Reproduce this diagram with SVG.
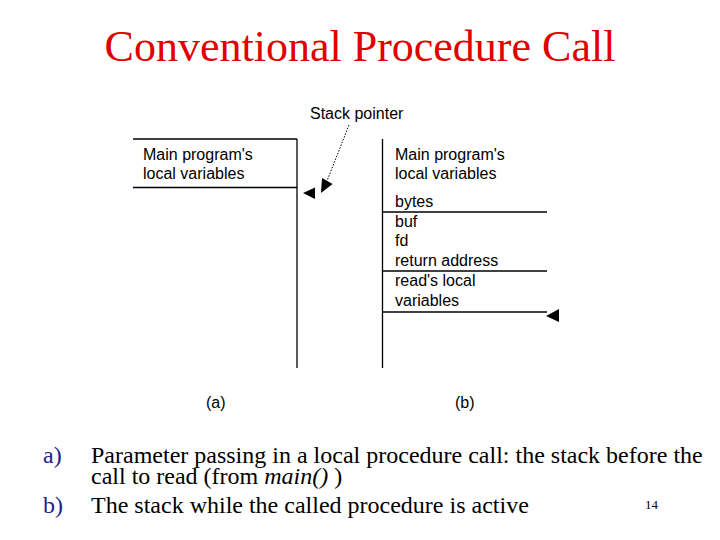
<svg xmlns="http://www.w3.org/2000/svg" width="720" height="540" viewBox="0 0 720 540">
<style>
.t{font-family:"Liberation Serif","Times New Roman",serif;}
.s{font-family:"Liberation Sans",Arial,sans-serif;font-size:16px;fill:#000;}
.ln{stroke:#000;stroke-width:1.3;fill:none;}
.ah{fill:#000;stroke:none;}
.body{font-size:24px;fill:#000;}
.lbl{font-size:24px;fill:#222288;}
</style>
<rect width="720" height="540" fill="#fff"/>
<text id="title" class="t" x="360" y="61" text-anchor="middle" font-size="44" fill="#E00000">Conventional Procedure Call</text>

<g id="stack-a">
  <line class="ln" x1="133" y1="139" x2="297" y2="139"/>
  <line class="ln" x1="133" y1="187.5" x2="297" y2="187.5"/>
  <line class="ln" x1="297" y1="139" x2="297" y2="368"/>
  <text class="s" x="143" y="160">Main program's</text>
  <text class="s" x="143" y="179">local variables</text>
  <text class="s" x="206" y="408">(a)</text>
</g>

<g id="stack-b">
  <line class="ln" x1="382.5" y1="139" x2="382.5" y2="368"/>
  <line class="ln" x1="382.5" y1="212" x2="547" y2="212"/>
  <line class="ln" x1="382.5" y1="271" x2="547" y2="271"/>
  <line class="ln" x1="382.5" y1="312" x2="547" y2="312"/>
  <text class="s" x="395" y="160">Main program's</text>
  <text class="s" x="395" y="179">local variables</text>
  <text class="s" x="395" y="207">bytes</text>
  <text class="s" x="395" y="227">buf</text>
  <text class="s" x="395" y="246">fd</text>
  <text class="s" x="395" y="266">return address</text>
  <text class="s" x="395" y="286">read's local</text>
  <text class="s" x="395" y="306">variables</text>
  <text class="s" x="455" y="408">(b)</text>
</g>

<g id="stack-pointer-label">
  <text class="s" x="310" y="119">Stack pointer</text>
</g>

<g id="connectors">
  <line x1="349" y1="125" x2="327" y2="181" stroke="#000" stroke-width="1" stroke-dasharray="1.5,1.5"/>
  <polygon class="ah" points="321,193 322,178 332.5,184"/>
  <polygon class="ah" points="303,193 315,187.5 315,199"/>
  <polygon class="ah" points="546,316 559,309 559,322"/>
</g>

<g id="caption">
  <text class="t lbl" x="43" y="463">a)</text>
  <text class="t body" x="91" y="463">Parameter passing in a local procedure call: the stack before the</text>
  <text class="t body" x="91" y="484">call to read (from <tspan font-style="italic">main()</tspan> )</text>
  <text class="t lbl" x="43" y="513">b)</text>
  <text class="t body" x="91" y="513">The stack while the called procedure is active</text>
  <text class="t" x="645" y="509" font-size="13" fill="#000">14</text>
</g>
</svg>
